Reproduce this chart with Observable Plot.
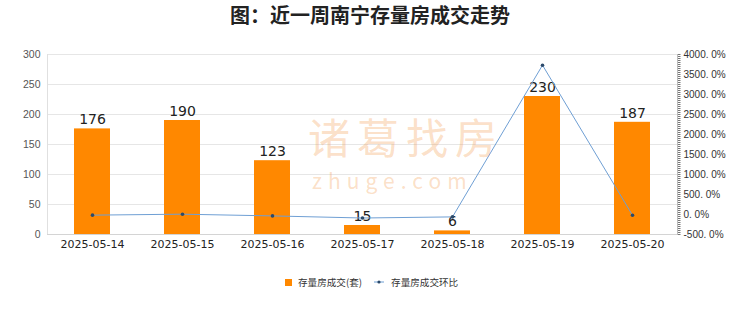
<!DOCTYPE html>
<html><head><meta charset="utf-8">
<script src="https://cdn.jsdelivr.net/npm/d3@7"></script>
<script src="https://cdn.jsdelivr.net/npm/@observablehq/plot@0.6"></script>
<style>
body{margin:0;background:#fff;font-family:"Noto Sans CJK SC","DejaVu Sans",sans-serif;}
#wrap{position:relative;width:740px;height:312px;overflow:hidden;}
#title{position:absolute;left:0;top:2px;width:740px;text-align:center;font-size:20px;font-weight:bold;color:#222;line-height:26px;}
#legend{position:absolute;top:274px;left:285px;font-size:9.6px;color:#333;white-space:nowrap;}
#legend span{display:inline-block;vertical-align:middle;}
#wm{position:absolute;left:308px;top:114px;color:rgba(244,150,70,0.3);pointer-events:none;text-align:left;}
</style></head>
<body><div id="wrap">
<div id="title">图：近一周南宁存量房成交走势</div>
<div id="chart"></div>
<div id="wm"><div style="font-size:42px;font-weight:normal;letter-spacing:7px;line-height:44px">诸葛找房</div><div style="font-size:21px;letter-spacing:6px;line-height:24px;padding-left:4px;margin-top:10px">zhuge.com</div></div>
<div id="legend"><span style="width:7px;height:7px;background:#FF8800;margin-right:6px"></span><span>存量房成交(套)</span><span style="width:12px"></span><svg width="10" height="8" style="vertical-align:middle;margin-right:7px"><line x1="0" y1="4" x2="10" y2="4" stroke="#6f9fd4"/><circle cx="5" cy="4" r="1.6" fill="#2b4a6b"/></svg><span>存量房成交环比</span></div>
</div>
<script>
const dates = ["2025-05-14","2025-05-15","2025-05-16","2025-05-17","2025-05-18","2025-05-19","2025-05-20"];
const volume = [176,190,123,15,6,230,187];
const mom = [-16,8,-35.3,-87.8,-60,3733,-18.7];
const leftTicks = [0,50,100,150,200,250,300];
const rightTicks = [-500,0,500,1000,1500,2000,2500,3000,3500,4000];

const pct = d3.scaleLinear().domain([-500,4000]).range([0,300]);
const bars = dates.map((d,i)=>({date:d,v:volume[i]}));
const line = dates.map((d,i)=>({date:d,p:mom[i],y:pct(mom[i])}));
const minor = d3.range(-500,4001,50).map(pct);

const plot = Plot.plot({
  width:740,height:312,
  marginTop:54,marginBottom:78,marginLeft:47,marginRight:63,
  style:{fontFamily:"'DejaVu Sans',sans-serif",background:"transparent"},
  x:{domain:dates,paddingInner:0.6,paddingOuter:0.3,label:null},
  y:{domain:[0,300],label:null},
  marks:[
    Plot.gridY(leftTicks.filter(t=>t>0),{stroke:"#e6e6e6",strokeOpacity:1}),
    Plot.frame({anchor:"left",stroke:"#e0e0e0"}),
    Plot.barY(bars,{x:"date",y:"v",fill:"#FF8800"}),
    Plot.text(bars,{x:"date",y:"v",text:d=>String(d.v),dy:-9,fontSize:14,fill:"#222"}),
    Plot.ruleY([0],{stroke:"#d4d4d4"}),
    Plot.line(line,{x:"date",y:"y",stroke:"#6f9fd4",strokeWidth:1}),
    Plot.dot(line,{x:"date",y:"y",r:1.8,fill:"#2b4a6b"}),
    Plot.axisY(leftTicks,{anchor:"left",tickSize:0,tickPadding:7,fontSize:10.5,fill:"#555",fontFamily:"'Liberation Sans',Arial,sans-serif"}),
    Plot.frame({anchor:"right",stroke:"#bbb"}),
    Plot.axisY(minor,{anchor:"right",tickSize:2.5,stroke:"#777",tickFormat:()=>""}),
    Plot.axisY(rightTicks.map(pct),{anchor:"right",tickSize:0,tickPadding:6,fontSize:10,fill:"#333",fontFamily:"'Liberation Sans',Arial,sans-serif",tickFormat:(v)=>{const p=Math.round(pct.invert(v));return p+". 0%";}}),
    Plot.axisX({tickSize:0,tickPadding:6,fontSize:11,fill:"#222",label:null})
  ]
});
document.getElementById("chart").appendChild(plot);
</script>
</body></html>
